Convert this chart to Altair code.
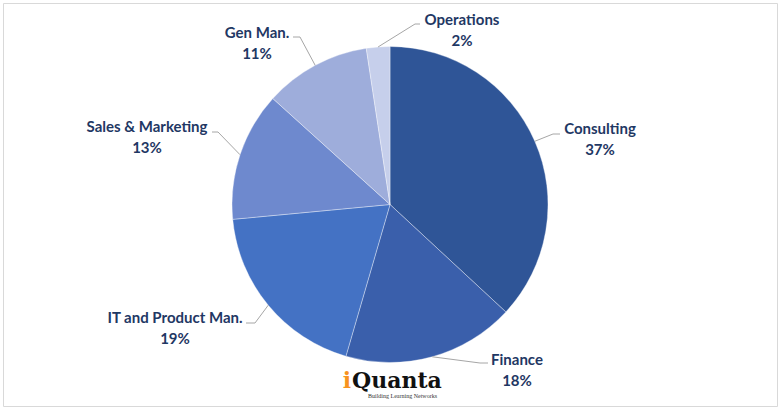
import altair as alt
import pandas as pd

# ---- data ----
categories = ["Consulting", "Finance", "IT and Product Man.", "Sales & Marketing", "Gen Man.", "Operations"]
shares = [36.9, 17.6, 19.0, 13.2, 10.9, 2.4]

# ---- styles ----
colors = ["#2F5597", "#3A5FAB", "#4472C4", "#6E89CE", "#9EADDB", "#C6CFEB"]
TEXT_COLOR = "#1F3864"
FONT = "Lato"

# ---- layout (page pixels) ----
label_x = [600, 517, 175, 147, 257, 462]
label_y = [129, 360, 318, 127, 33, 20]
elbow_x = [553, 480, 255, 218, 300, 415]
elbow_y = [134, 363, 323, 132, 37, 24]
end_x = [560, 488, 246, 212, 293, 420]
end_y = [134, 363, 323, 132, 37, 24]

PAD = {"left": 3, "top": 3, "right": 3, "bottom": 6}
W, H = 774, 403
CX, CY = PAD["left"] + W / 2, PAD["top"] + H / 2
R = 158

df = pd.DataFrame({
    "category": categories,
    "share": shares,
    "order": list(range(len(categories))),
    "pct": [f"{round(v)}%" for v in shares],
    "lx": [x - CX for x in label_x],
    "ly": [y - CY for y in label_y],
    "ly2": [y - CY + 21 for y in label_y],
    "ex": [x - CX for x in elbow_x],
    "ey": [y - CY for y in elbow_y],
    "tx": [x - CX for x in end_x],
    "ty": [y - CY for y in end_y],
})

base = alt.Chart(df)

xs = alt.Scale(domain=[-W / 2, W / 2], nice=False, zero=False)
ys = alt.Scale(domain=[-H / 2, H / 2], nice=False, zero=False, reverse=True)

pie = base.mark_arc(outerRadius=R, stroke="white", strokeWidth=0.6, strokeOpacity=0.6).encode(
    theta=alt.Theta("share:Q", stack=True),
    order=alt.Order("order:Q"),
    color=alt.Color("category:N", scale=alt.Scale(domain=categories, range=colors), legend=None),
)

geo = base.transform_window(
    cum="sum(share)", sort=[alt.SortField("order")], frame=[None, 0]
).transform_joinaggregate(
    total="sum(share)"
).transform_calculate(
    mid="(datum.cum - datum.share / 2) / datum.total * 2 * PI",
).transform_calculate(
    x0=f"{R} * sin(datum.mid)",
    y0=f"-{R} * cos(datum.mid)",
)

lead1 = geo.mark_rule(color="#A6A6A6", strokeWidth=1).encode(
    x=alt.X("x0:Q", scale=xs, axis=None),
    y=alt.Y("y0:Q", scale=ys, axis=None),
    x2="ex:Q",
    y2="ey:Q",
)
lead2 = base.mark_rule(color="#A6A6A6", strokeWidth=1).encode(
    x=alt.X("ex:Q", scale=xs, axis=None),
    y=alt.Y("ey:Q", scale=ys, axis=None),
    x2="tx:Q",
    y2="ty:Q",
)

names = base.mark_text(font=FONT, fontSize=15, fontWeight="bold", color=TEXT_COLOR,
                       baseline="middle", align="center").encode(
    x=alt.X("lx:Q", scale=xs, axis=None),
    y=alt.Y("ly:Q", scale=ys, axis=None),
    text="category:N",
)
pcts = base.mark_text(font=FONT, fontSize=15, fontWeight="bold", color=TEXT_COLOR,
                      baseline="middle", align="center").encode(
    x=alt.X("lx:Q", scale=xs, axis=None),
    y=alt.Y("ly2:Q", scale=ys, axis=None),
    text="pct:N",
)

# logo annotation
logo_i = alt.Chart(pd.DataFrame({"t": ["i"]})).mark_text(
    font="DejaVu Serif", fontSize=22, fontWeight="bold", color="#F7931E",
    align="right", baseline="alphabetic").encode(
    x=alt.value(351 - PAD["left"]), y=alt.value(388 - PAD["top"]), text="t:N")
logo_q = alt.Chart(pd.DataFrame({"t": ["Quanta"]})).mark_text(
    font="DejaVu Serif", fontSize=22, fontWeight="bold", color="#111111",
    align="left", baseline="alphabetic").encode(
    x=alt.value(352 - PAD["left"]), y=alt.value(388 - PAD["top"]), text="t:N")
logo_t = alt.Chart(pd.DataFrame({"t": ["Building Learning Networks"]})).mark_text(
    font="Liberation Serif", fontSize=6, color="#333333",
    align="left", baseline="middle").encode(
    x=alt.value(368 - PAD["left"]), y=alt.value(396 - PAD["top"]), text="t:N")

chart = alt.layer(pie, lead1, lead2, names, pcts, logo_i, logo_q, logo_t).properties(
    width=W, height=H, padding=PAD, autosize=alt.AutoSizeParams(type="none"),
    background="white",
).configure_view(stroke="#D9D9D9", strokeWidth=1)

chart.save("out.html", embed_options={"renderer": "svg", "actions": False})
